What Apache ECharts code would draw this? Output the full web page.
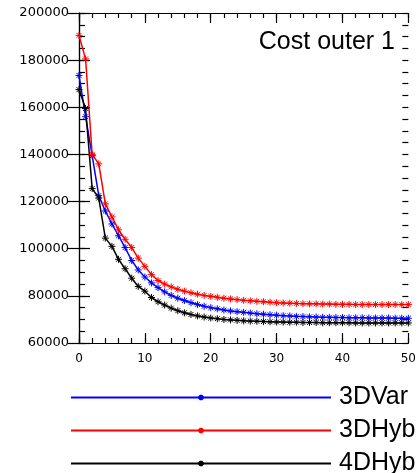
<!DOCTYPE html>
<html>
<head>
<meta charset="utf-8">
<script src="https://cdn.jsdelivr.net/npm/echarts@6/dist/echarts.min.js"></script>
<style>
  html, body { margin: 0; padding: 0; background: #fff; }
  #main { width: 419px; height: 473px; }
</style>
</head>
<body>
<div id="main"></div>
<script>
// 数据
var iterations = [];
for (var i = 0; i <= 50; i++) iterations.push(i);

var seriesNames = ["3DVar", "3DHyb", "4DHyb"];
var seriesColors = ["#0000ff", "#ff0000", "#000000"];

var var3d = [173500, 156000, 139500, 122500, 116000, 110500, 105500, 100500, 95000, 91000,
    88000, 85500, 83500, 81700, 80200, 79000, 78000, 77100, 76300, 75600,
    75000, 74500, 74000, 73600, 73300, 73000, 72700, 72400, 72200, 72000,
    71800, 71600, 71500, 71300, 71200, 71100, 71000, 70900, 70900, 70800,
    70800, 70700, 70700, 70700, 70600, 70600, 70600, 70600, 70500, 70500, 70500];

var hyb3d = [190500, 180500, 140000, 136000, 119000, 113500, 108000, 104000, 100500, 96000,
    92500, 89000, 86500, 85000, 83800, 82800, 82000, 81300, 80700, 80200,
    79800, 79400, 79000, 78700, 78400, 78100, 77900, 77700, 77500, 77300,
    77100, 77000, 76900, 76800, 76700, 76600, 76600, 76500, 76500, 76400,
    76400, 76400, 76300, 76300, 76300, 76300, 76300, 76300, 76300, 76300, 76300];

var hyb4d = [167500, 159500, 125500, 121500, 104500, 101000, 95500, 91500, 87500, 84000,
    82000, 79300, 77500, 76100, 74800, 73700, 72800, 72100, 71500, 71000,
    70600, 70300, 70000, 69800, 69600, 69400, 69300, 69200, 69100, 69000,
    68900, 68900, 68800, 68800, 68700, 68700, 68700, 68600, 68600, 68600,
    68600, 68600, 68500, 68500, 68500, 68500, 68500, 68500, 68500, 68500, 68500];

var allValues = [var3d, hyb3d, hyb4d];

var myChart = echarts.init(document.getElementById('main'));

// 星号标记
var starSymbol = 'path://M0,5L10,5M5,0L5,10M1.5,1.5L8.5,8.5M8.5,1.5L1.5,8.5';

// 主刻度轴 (带标签和轴线)
function majorAxis(position, min, max, interval, tickLen, showLabel, fontSize) {
    return {
        type: 'value',
        position: position,
        min: min,
        max: max,
        interval: interval,
        axisLine: { show: true, lineStyle: { color: '#000', width: 1.2 } },
        axisTick: { show: true, inside: true, length: tickLen, lineStyle: { color: '#000', width: 1.2 } },
        axisLabel: {
            show: showLabel, color: '#000', fontFamily: 'DejaVu Sans', fontSize: fontSize, margin: 10,
            formatter: function (v) { return String(v); }
        },
        splitLine: { show: false }
    };
}

// 次刻度轴 (只画朝里的短刻度)
function minorAxis(position, min, max, interval, tickLen) {
    return {
        type: 'value',
        position: position,
        min: min,
        max: max,
        interval: interval,
        axisLine: { show: false, onZero: false },
        axisTick: { show: true, inside: true, length: tickLen, lineStyle: { color: '#000', width: 1.2 } },
        axisLabel: { show: false },
        splitLine: { show: false }
    };
}

var xAxes = [
    majorAxis('bottom', 0, 50, 10, 10, true, 12),
    majorAxis('top', 0, 50, 10, 10, false, 12),
    minorAxis('bottom', 0, 50, 2, 5),
    minorAxis('top', 0, 50, 2, 5)
];
var yAxes = [
    majorAxis('left', 60000, 200000, 20000, 11, true, 13),
    majorAxis('right', 60000, 200000, 20000, 11, false, 13),
    minorAxis('left', 60000, 200000, 5000, 6),
    minorAxis('right', 60000, 200000, 5000, 6)
];

var series = seriesNames.map(function (name, k) {
    return {
        name: name,
        type: 'line',
        xAxisIndex: 0,
        yAxisIndex: 0,
        data: iterations.map(function (x, i) { return [x, allValues[k][i]]; }),
        symbol: starSymbol,
        symbolSize: 7,
        showAllSymbol: true,
        lineStyle: { color: seriesColors[k], width: 1.5 },
        itemStyle: { color: seriesColors[k], borderColor: seriesColors[k], borderWidth: 1 },
        animation: false
    };
});

// 图例: 每行一个
var legendCenters = [395, 428, 461];
var legends = seriesNames.map(function (name, k) {
    return {
        orient: 'vertical',
        left: 70,
        top: legendCenters[k] - 10,
        itemWidth: 260,
        itemHeight: 7,
        padding: 0,
        data: [name],
        textStyle: { fontFamily: 'Liberation Sans', fontSize: 25, lineHeight: 20, color: '#000', padding: [0, 0, 0, 3] }
    };
});

var option = {
    animation: false,
    grid: { left: 79, right: 10, top: 13, bottom: 130, containLabel: false },
    xAxis: xAxes,
    yAxis: yAxes,
    legend: legends,
    graphic: [{
        type: 'text',
        right: 24,
        top: 30,
        style: { text: 'Cost outer 1', fontFamily: 'Liberation Sans', fontSize: 25, fill: '#000' }
    }],
    series: series
};

myChart.setOption(option);
</script>
</body>
</html>
